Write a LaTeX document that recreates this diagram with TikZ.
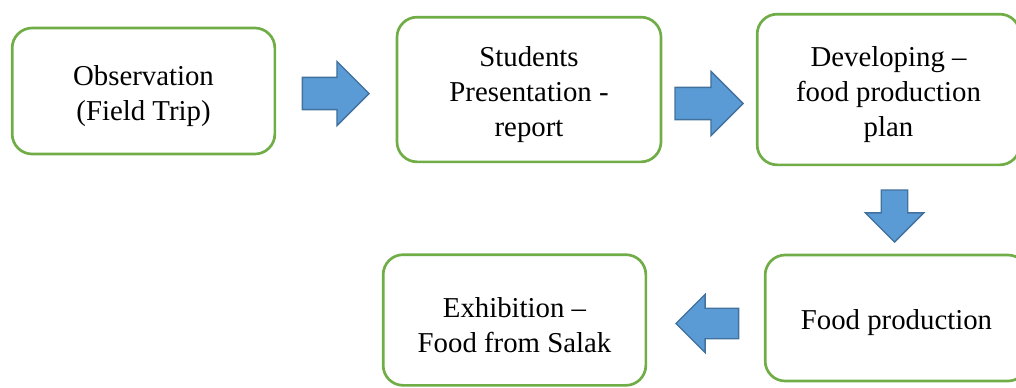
\documentclass[tikz,border=0pt]{standalone}
\usepackage{fontspec}
\setmainfont{Liberation Serif}
\usetikzlibrary{shapes.arrows}
\definecolor{boxgreen}{HTML}{70AD47}
\definecolor{arrowfill}{HTML}{5B9BD5}
\definecolor{arrowline}{HTML}{41719C}
\newcommand{\padtop}{\rule{0pt}{22pt}}% pushes the text a little down, as in the original

\begin{document}
\begin{tikzpicture}[x=0.75pt,y=-0.75pt,
    box/.style={draw=boxgreen, line width=2pt, rounded corners=15pt, align=center,
        inner sep=0pt, font=\fontsize{21.6}{26.3}\selectfont},
    blockarrow/.style={single arrow, draw=arrowline, fill=arrowfill, line width=1pt,
        inner sep=0pt, single arrow head indent=0pt, anchor=tip},
]
    \useasboundingbox (0,0) rectangle (1016,387);
    % the five steps
    \node[box, minimum width=197pt, minimum height=94.5pt] (obs) at (143.5,91) {\padtop Observation\\(Field Trip)};
    \node[box, minimum width=198pt, minimum height=108.5pt] (pres) at (529,89.5) {\padtop Students\\Presentation -\\report};
    \node[box, minimum width=197pt, minimum height=113pt] (plan) at (888.5,89.5) {\padtop Developing --\\food production\\plan};
    \node[box, minimum width=197pt, minimum height=94.5pt] (prod) at (896.5,318) {\padtop Food production};
    \node[box, minimum width=197pt, minimum height=98pt] (exhib) at (514.5,320) {\padtop Exhibition --\\Food from Salak};
    % block arrows in between (placed by their tips)
    \node[blockarrow, minimum height=50pt, inner ysep=11.6pt, single arrow head extend=12pt] (a1) at (370,93.5) {};
    \node[blockarrow, minimum height=51pt, inner ysep=11.6pt, single arrow head extend=12pt] (a2) at (744,103.5) {};
    \node[blockarrow, minimum height=39pt, inner xsep=9.4pt, single arrow head extend=12pt, shape border rotate=270] (a3) at (894.5,243) {};
    \node[blockarrow, minimum height=47pt, inner ysep=10.9pt, single arrow head extend=10.5pt, shape border rotate=180] (a4) at (675,323.5) {};
\end{tikzpicture}
\end{document}
